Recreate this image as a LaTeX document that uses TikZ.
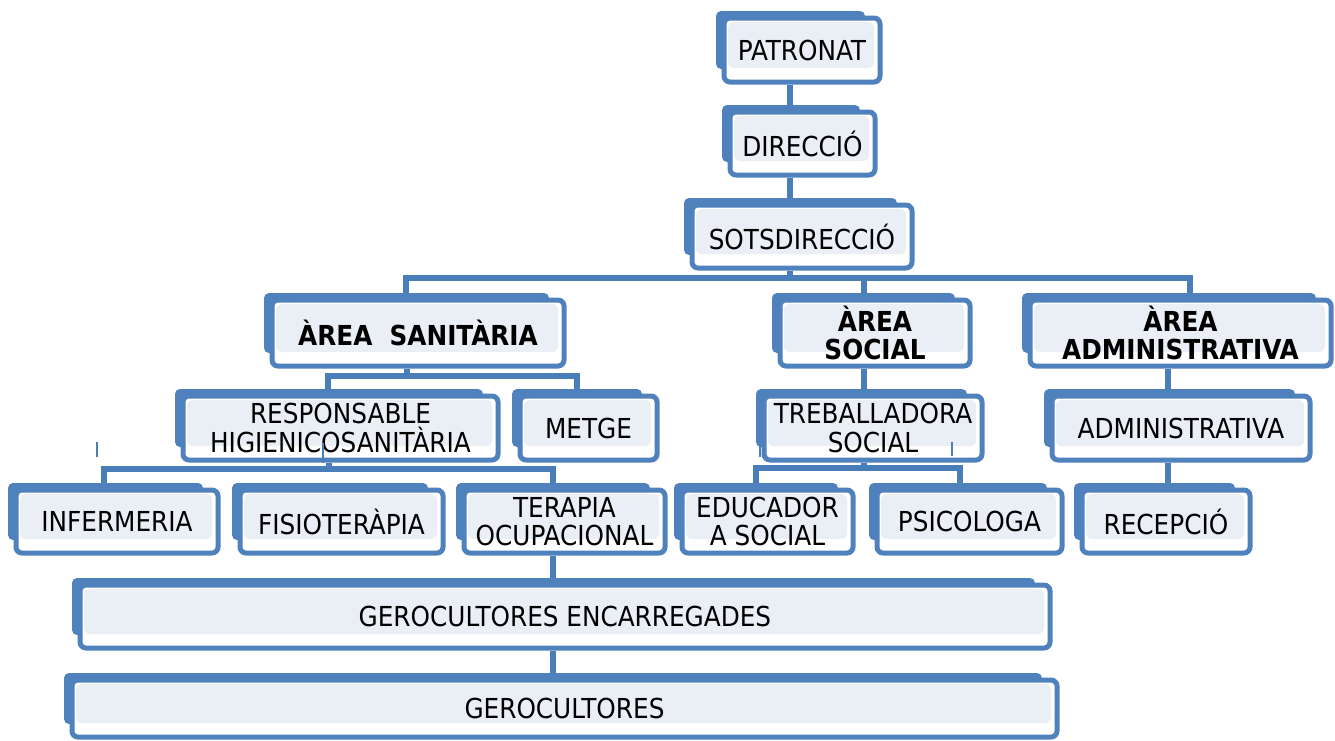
\documentclass[tikz,border=0pt]{standalone}
\usepackage{fontspec}
\setmainfont{DejaVu Sans Condensed}
\usetikzlibrary{calc}
\definecolor{ob}{HTML}{4F81BD}
\definecolor{obd}{HTML}{4A7EBB}
\definecolor{dotf}{HTML}{EAEFF6}
\pgfdeclarelayer{bg}\pgfsetlayers{bg,main}
\tikzset{
  front/.style={draw=ob, line width=5pt, fill=white, rounded corners=6pt, inner sep=0pt,
    align=center, font=\fontsize{27.5}{28.5}\selectfont,
    path picture={\fill[dotf] ($(path picture bounding box.south west)+(4pt,14pt)$) rectangle ($(path picture bounding box.north east)+(-6pt,-4pt)$);}},
  conn/.style={draw=obd, line width=6pt},
  backbox/.style={fill=ob, rounded corners=5pt},
  tickline/.style={draw=obd, line width=2.5pt},
}
\newcommand\obx[6]{%
  \fill[backbox] (#2-8,#3-7) rectangle (#4-15,#5-13);
  \node[front, minimum width={(#4-#2)*1pt}, minimum height={(#5-#3)*1pt}] (#1) at ({(#2+#4)/2},{(#3+#5)/2}) {#6};}
\begin{document}
\begin{tikzpicture}[x=1pt,y=-1pt]
\useasboundingbox (0,0) rectangle (1335,740);
\obx{patronat}{724}{18}{880}{82}{PATRONAT}
\obx{direccio}{730}{112}{875}{175}{DIRECCIÓ}
\obx{sots}{692}{205}{912}{268}{SOTSDIRECCIÓ}
\obx{san}{272}{300}{564}{366}{\bfseries ÀREA\ \ SANITÀRIA}
\obx{soc}{780}{300}{970}{366}{\bfseries ÀREA\\\bfseries SOCIAL}
\obx{adm}{1030}{300}{1331}{366}{\bfseries ÀREA\\\bfseries ADMINISTRATIVA}
\obx{resp}{183}{396}{498}{460}{RESPONSABLE\\HIGIENICOSANITÀRIA}
\obx{metge}{520}{396}{657}{460}{METGE}
\obx{treb}{764}{396}{982}{460}{TREBALLADORA\\SOCIAL}
\obx{admin}{1052}{396}{1310}{460}{ADMINISTRATIVA}
\obx{inf}{16}{490}{218}{553}{INFERMERIA}
\obx{fis}{240}{490}{443}{553}{FISIOTERÀPIA}
\obx{ter}{464}{490}{665}{553}{TERAPIA\\OCUPACIONAL}
\obx{edu}{682}{490}{853}{553}{EDUCADOR\\A SOCIAL}
\obx{psi}{877}{490}{1062}{553}{PSICOLOGA}
\obx{rec}{1082}{490}{1250}{553}{RECEPCIÓ}
\obx{gerenc}{80}{585}{1050}{648}{GEROCULTORES ENCARREGADES}
\obx{gero}{72}{680}{1057}{737}{GEROCULTORES}
% coordinates for connectors
\coordinate (c1) at (790,0);
\coordinate (c2) at (864,0);
\coordinate (c3) at (407,0);
\coordinate (c4) at (329,0);
\coordinate (c5) at (553,0);
\coordinate (c6) at (1168,0);
\coordinate (busL) at (406,278);
\coordinate (busR) at (1190,278);
\coordinate (s1) at (328,376);
\coordinate (s2) at (577,376);
\coordinate (r1) at (104,469);
\coordinate (r2) at (553,469);
\coordinate (t1) at (756,468);
\coordinate (t2) at (960,468);
\begin{pgfonlayer}{bg}
\draw[conn] (patronat.south -| c1) -- (direccio.north -| c1);
\draw[conn] (direccio.south -| c1) -- (sots.north -| c1);
\draw[conn] (sots.south -| c1) -- (c1 |- busL);
\draw[conn] (san.north -| busL) -- (busL) -- (busR) -- (adm.north -| busR);
\draw[conn] (c2 |- busL) -- (soc.north -| c2);
\draw[conn] (san.south -| c3) -- (c3 |- s1);
\draw[conn] (resp.north -| s1) -- (s1) -- (s2) -- (metge.north -| s2);
\draw[conn] (resp.south -| c4) -- (c4 |- r1);
\draw[conn] (inf.north -| r1) -- (r1) -- (r2) -- (ter.north -| r2);
\draw[conn] (ter.south -| c5) -- (gerenc.north -| c5);
\draw[conn] (gerenc.south -| c5) -- (gero.north -| c5);
\draw[conn] (soc.south -| c2) -- (treb.north -| c2);
\draw[conn] (treb.south -| c2) -- (c2 |- t1);
\draw[conn] (edu.north -| t1) -- (t1) -- (t2) -- (psi.north -| t2);
\draw[conn] (adm.south -| c6) -- (admin.north -| c6);
\draw[conn] (admin.south -| c6) -- (rec.north -| c6);
\end{pgfonlayer}
% small stray ticks
\coordinate (k1a) at (97,442); \coordinate (k1b) at (97,457);
\coordinate (k2a) at (323,443); \coordinate (k2b) at (323,463);
\coordinate (k3a) at (952,442); \coordinate (k3b) at (952,456);
\coordinate (k4a) at (760,445); \coordinate (k4b) at (760,457);
\draw[tickline] (k1a) -- (k1b);
\draw[tickline] (k2a) -- (k2b);
\draw[tickline] (k3a) -- (k3b);
\draw[tickline] (k4a) -- (k4b);
\end{tikzpicture}
\end{document}
